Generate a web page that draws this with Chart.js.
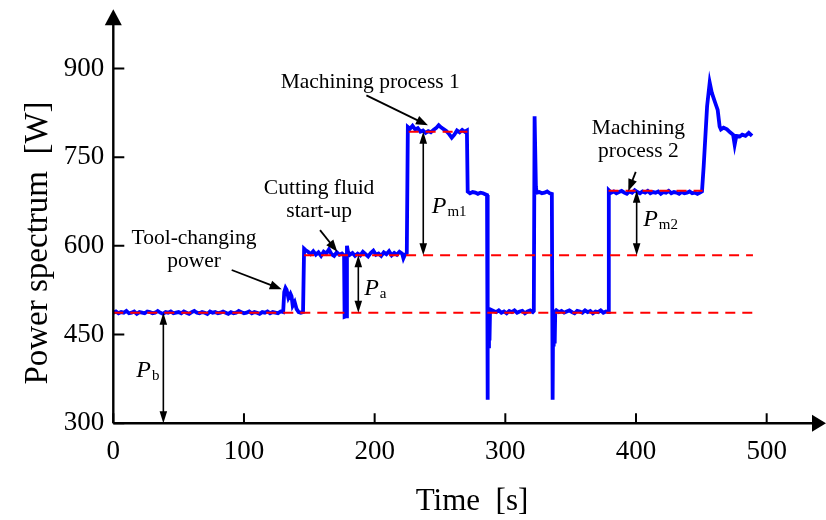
<!DOCTYPE html>
<html lang="en">
<head>
<meta charset="UTF-8">
<title>Power spectrum</title>
<style>
  html, body { margin: 0; padding: 0; background: #fff; }
  #chart { display: block; }
</style>
</head>
<body>
<canvas id="chart" width="826" height="520"></canvas>
<script src="https://cdn.jsdelivr.net/npm/chart.js"></script>
<script>
// blue trace (time in s, power in W)
var timeS = [
  0,2,4,6,8,10,12,14,16,18,
  20,22,24,26,28,30,32,34,36,38,
  40,42,44,46,48,50,52,54,56,58,
  60,62,64,66,68,70,72,74,76,78,
  80,82,84,86,88,90,92,94,96,98,
  100,102,104,106,108,110,112,114,116,118,
  120,122,124,126,128,
  130,130.8,131.8,132.6,134,135.6,136.4,137.3,138.8,140.3,
  141.8,143.5,145.2,146,
  147,149,151,153,155,157,159,161,163,165,
  167,169,171,173,175,176.6,177,178.4,178.8,179.6,
  181,183,185,187,189,191,193,195,197,199,
  201,203,205,207,209,211,213,215,217,219,
  221,222,223,224.6,
  225.4,227,229,231,233,235,237,239,241,243,
  245,247,249,251,253,255,257,259,261,263,
  265,267,269,270.6,
  271.2,273,275,277,279,281,283,285,286,286.3,
  286.7,287.1,287.5,287.9,288.3,
  289,291,293,295,297,299,301,303,305,307,
  309,311,313,315,317,319,321,321.8,322.4,323.4,
  324,326,328,330,332,334,335.6,336.2,336.6,337,
  337.4,337.8,338.2,
  339,341,343,345,347,349,351,353,355,357,
  359,361,363,365,367,369,371,373,375,377,
  378.6,
  379.2,381,383,385,387,389,391,393,395,397,
  399,401,403,405,407,409,411,413,415,417,
  419,421,423,425,427,429,431,433,435,437,
  439,441,443,445,447,449,450.5,
  451.8,454.4,456.4,458,460.6,462.5,464,465,467,469.6,
  472,474.3,475.5,476.8,479.4,481.3,483.8,486.3,488.8
];
var powerW = [
  487,489,486,488,487,490,486,487,489,485,
  488,487,486,489,488,486,487,490,487,485,
  488,487,489,486,487,488,486,489,487,485,
  488,490,487,486,488,487,485,489,487,488,
  486,487,489,487,485,488,486,487,490,488,
  486,487,489,486,488,487,485,488,487,489,
  486,488,487,486,489,
  488,522,529,526,512,519,515,499,505,493,
  488,487,488,595,
  593,590,586,591,585,589,583,590,587,594,
  586,583,589,585,587,584,480,481,600,590,
  585,588,583,587,584,590,586,582,588,592,
  585,587,583,589,586,591,584,588,585,590,
  587,579,584,588,
  801,798,803,797,799,793,795,791,794,792,
  796,799,804,800,797,794,789,783,788,795,
  792,796,793,795,
  692,689,691,690,688,690,689,687,686,340,
  488,430,492,440,490,
  492,490,488,491,487,489,486,490,488,491,
  487,489,490,486,489,491,488,490,819,700,
  690,691,689,690,692,689,688,340,488,430,
  490,435,489,
  491,488,490,487,489,491,488,486,490,489,
  487,491,488,490,486,489,488,491,487,489,
  488,
  694,690,692,689,691,693,690,688,692,690,
  694,691,689,692,690,693,689,691,690,692,
  688,691,690,693,689,691,690,688,691,689,
  690,692,689,690,688,690,692,
  735,836,876,859,842,830,802,797,800,797,
  792,788,771,786,785,788,786,791,786
];

// red dashed reference levels
var refLevel = [487, 584, 793, 693];
var refFrom  = [0, 146, 226, 379];
var refTo    = [489.5, 489.5, 271, 451];

var xTicks = [0, 100, 200, 300, 400, 500];
var yTicks = [300, 450, 600, 750, 900];

var serif = "'Liberation Serif', 'Times New Roman', serif";

var trace = timeS.map(function (t, i) { return { x: t, y: powerW[i] }; });

var datasets = refLevel.map(function (lv, i) {
  return {
    data: [{ x: refFrom[i], y: lv }, { x: refTo[i], y: lv }],
    borderColor: '#ff0000',
    borderWidth: 2,
    borderDash: [10, 7],
    pointRadius: 0,
    order: 0
  };
});
datasets.push({
  data: trace,
  borderColor: '#0000ff',
  borderWidth: 3.8,
  pointRadius: 0,
  tension: 0,
  order: 1
});

// annotations, anchored in data units
var notes = [
  { lines: ['Machining process 1'], x: 196.6, y: 866.7 },
  { lines: ['Cutting fluid', 'start-up'], x: 157.5, y: 688 },
  { lines: ['Tool-changing', 'power'], x: 61.8, y: 603 },
  { lines: ['Machining', 'process 2'], x: 401.8, y: 790 }
];
var pointers = [
  { from: [193.7, 854.5], to: [240.8, 803.8] },
  { from: [158.2, 626.7], to: [171.4, 590] },
  { from: [90.6, 559.2], to: [128.9, 526.5] },
  { from: [399.8, 725.2], to: [394.1, 692.6] }
];
var spans = [
  { x: 38.3, y0: 300, y1: refLevel[0], sub: 'b', lx: 17.6, ly: 378 },
  { x: 187.5, y0: refLevel[0], y1: refLevel[1], sub: 'a', lx: 192, ly: 517 },
  { x: 237.2, y0: refLevel[1], y1: refLevel[2], sub: 'm1', lx: 243.7, ly: 655 },
  { x: 400.5, y0: refLevel[1], y1: refLevel[3], sub: 'm2', lx: 405.5, ly: 633 }
];

function head(ctx, x0, y0, x1, y1, len, w) {
  var ang = Math.atan2(y1 - y0, x1 - x0);
  ctx.beginPath();
  ctx.moveTo(x1, y1);
  ctx.lineTo(x1 - len * Math.cos(ang) + w * Math.sin(ang), y1 - len * Math.sin(ang) - w * Math.cos(ang));
  ctx.lineTo(x1 - len * Math.cos(ang) - w * Math.sin(ang), y1 - len * Math.sin(ang) + w * Math.cos(ang));
  ctx.closePath();
  ctx.fill();
}

var inkPlugin = {
  id: 'ink',
  afterDraw: function (chart) {
    var ctx = chart.ctx, xs = chart.scales.x, ys = chart.scales.y, a = chart.chartArea;
    ctx.save();
    ctx.strokeStyle = '#000';
    ctx.fillStyle = '#000';

    // axes with arrow heads
    ctx.lineWidth = 2.4;
    ctx.beginPath();
    ctx.moveTo(a.left, a.bottom);
    ctx.lineTo(a.left, a.top + 12);
    ctx.moveTo(a.left, a.bottom);
    ctx.lineTo(a.right - 10, a.bottom);
    ctx.stroke();
    head(ctx, a.left, a.bottom, a.left, a.top, 16, 8.5);
    head(ctx, a.left, a.bottom, a.right, a.bottom, 14, 8.5);

    // inward ticks
    ctx.lineWidth = 2;
    ctx.beginPath();
    yTicks.forEach(function (v) {
      var py = ys.getPixelForValue(v);
      ctx.moveTo(a.left, py);
      ctx.lineTo(a.left + 11, py);
    });
    xTicks.forEach(function (v) {
      var px = xs.getPixelForValue(v);
      ctx.moveTo(px, a.bottom);
      ctx.lineTo(px, a.bottom - 10);
    });
    ctx.stroke();

    // axis titles
    ctx.textAlign = 'center';
    ctx.textBaseline = 'alphabetic';
    ctx.font = '31px ' + serif;
    ctx.fillText('Time  [s]', 472, 510);
    ctx.save();
    ctx.translate(47, 243);
    ctx.rotate(-Math.PI / 2);
    ctx.font = '33px ' + serif;
    ctx.fillText('Power spectrum  [W]', 0, 0);
    ctx.restore();

    // notes
    ctx.font = '21.5px ' + serif;
    notes.forEach(function (n) {
      var px = xs.getPixelForValue(n.x), py = ys.getPixelForValue(n.y);
      n.lines.forEach(function (s, i) {
        ctx.fillText(s, px, py + i * 23);
      });
    });

    // pointer arrows
    ctx.lineWidth = 1.8;
    pointers.forEach(function (p) {
      var x0 = xs.getPixelForValue(p.from[0]), y0 = ys.getPixelForValue(p.from[1]);
      var x1 = xs.getPixelForValue(p.to[0]), y1 = ys.getPixelForValue(p.to[1]);
      var ang = Math.atan2(y1 - y0, x1 - x0);
      ctx.beginPath();
      ctx.moveTo(x0, y0);
      ctx.lineTo(x1 - 8 * Math.cos(ang), y1 - 8 * Math.sin(ang));
      ctx.stroke();
      head(ctx, x0, y0, x1, y1, 12, 4.5);
    });

    // double arrows with P labels
    ctx.lineWidth = 1.6;
    spans.forEach(function (s) {
      var px = xs.getPixelForValue(s.x);
      var yb = ys.getPixelForValue(s.y0), yt = ys.getPixelForValue(s.y1);
      ctx.beginPath();
      ctx.moveTo(px, yb - 8);
      ctx.lineTo(px, yt + 8);
      ctx.stroke();
      head(ctx, px, yb, px, yt, 12, 3.8);
      head(ctx, px, yt, px, yb, 12, 3.8);

      var lx = xs.getPixelForValue(s.lx), ly = ys.getPixelForValue(s.ly);
      ctx.textAlign = 'left';
      ctx.font = 'italic 24px ' + serif;
      ctx.fillText('P', lx, ly);
      var w = ctx.measureText('P').width;
      ctx.font = '15px ' + serif;
      ctx.fillText(s.sub, lx + w + 1, ly + 3);
    });

    ctx.restore();
  }
};

new Chart(document.getElementById('chart'), {
  type: 'line',
  data: { datasets: datasets },
  options: {
    responsive: false,
    animation: false,
    devicePixelRatio: 1,
    layout: { padding: { top: 9.3, right: 0, left: 0, bottom: 0 } },
    plugins: { legend: { display: false }, tooltip: { enabled: false } },
    scales: {
      x: {
        type: 'linear',
        min: 0,
        max: 545.4,
        grid: { display: false, drawTicks: false },
        border: { display: false },
        afterBuildTicks: function (s) { s.ticks = xTicks.map(function (v) { return { value: v }; }); },
        afterFit: function (s) { s.height = 96.7; s.paddingLeft = 0; s.paddingRight = 0; },
        ticks: { color: '#000', padding: 12, maxRotation: 0, font: { family: serif, size: 27 } }
      },
      y: {
        type: 'linear',
        min: 300,
        max: 1000,
        grid: { display: false, drawTicks: false },
        border: { display: false },
        afterBuildTicks: function (s) { s.ticks = yTicks.map(function (v) { return { value: v }; }); },
        afterFit: function (s) { s.width = 113.3; s.paddingTop = 0; s.paddingBottom = 0; },
        ticks: { color: '#000', padding: 9, font: { family: serif, size: 27 } }
      }
    }
  },
  plugins: [inkPlugin]
});
</script>
</body>
</html>
